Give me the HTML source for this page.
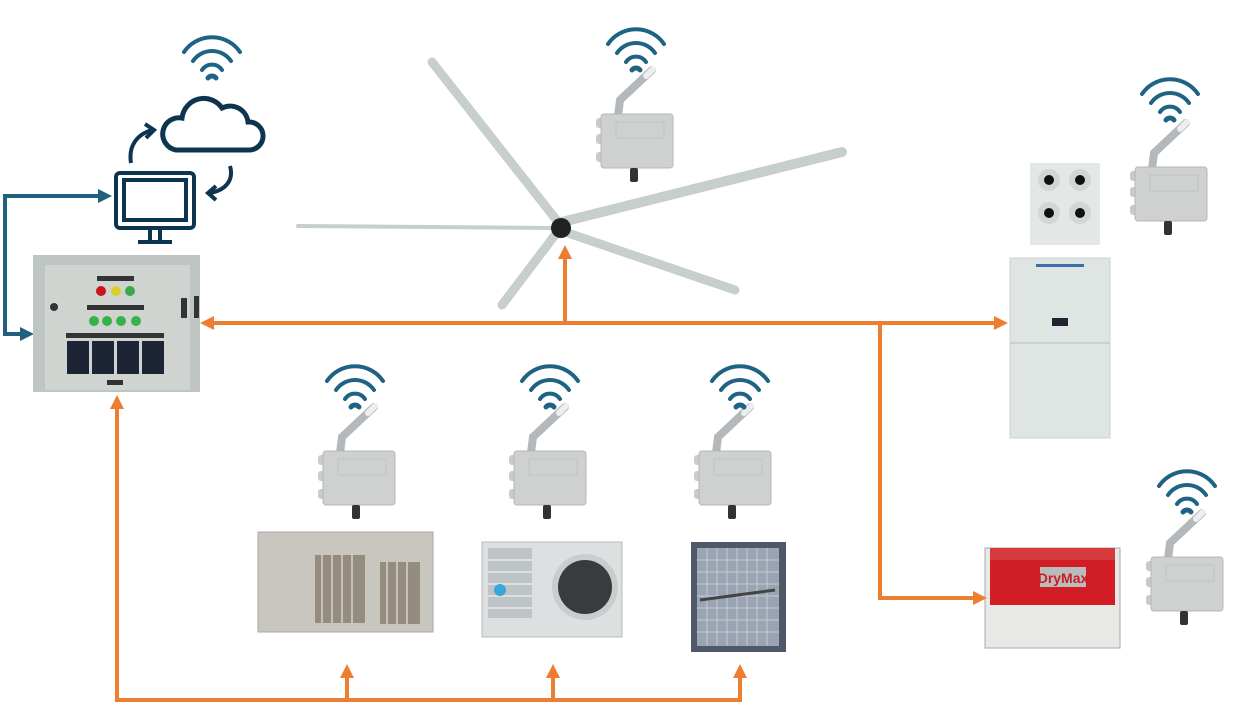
<!DOCTYPE html>
<html><head><meta charset="utf-8"><style>html,body{margin:0;padding:0;background:#fff}svg{display:block}</style></head>
<body>
<svg width="1234" height="705" viewBox="0 0 1234 705" xmlns="http://www.w3.org/2000/svg">
<defs>
<g id="wifi" fill="none" stroke="#1f6384" stroke-width="4" stroke-linecap="round">
<path d="M-28,-12 A34,34 0 0 1 28,-12"/>
<path d="M-19,-3 A23,23 0 0 1 19,-3"/>
<path d="M-10,6 A12,12 0 0 1 10,6"/>
<path d="M-4,14 A5,5 0 0 1 4,14" stroke-width="5"/>
</g>
<g id="mod">
<path d="M22,4 L24,-12 L56,-42" stroke="#b4b8bb" stroke-width="8" stroke-linecap="round" fill="none"/>
<path d="M50,-36 L57,-43" stroke="#eceeef" stroke-width="6" stroke-linecap="round"/>
<rect x="0" y="6" width="8" height="10" rx="3" fill="#c9cbcb"/>
<rect x="0" y="22" width="8" height="10" rx="3" fill="#c9cbcb"/>
<rect x="0" y="40" width="8" height="10" rx="3" fill="#c9cbcb"/>
<rect x="5" y="2" width="72" height="54" rx="3" fill="#cfd1d1" stroke="#b5b8b8"/>
<rect x="20" y="10" width="48" height="16" fill="none" stroke="#bfc2c2"/>
<rect x="34" y="56" width="8" height="14" rx="2" fill="#333"/>
</g>
</defs>

<path d="M100,196 L5,196 L5,334 L24,334" fill="none" stroke="#1f5f80" stroke-width="4"/>
<path d="M98,189 L112,196 L98,203 z" fill="#1f5f80"/>
<path d="M20,327 L34,334 L20,341 z" fill="#1f5f80"/>

<g fill="none" stroke="#0d3550" stroke-width="4">
<path d="M176,150 L250,150 A14,14 0 0 0 248,122 A18,18 0 0 0 222,108 A22,22 0 0 0 182,118 A16,16 0 0 0 176,150 z" stroke-width="5"/>
<path d="M131,163 C128,145 138,134 152,130"/>
<path d="M145,124 L154,130 L146,138"/>
<path d="M230,166 C234,180 226,190 210,193"/>
<path d="M216,186 L208,193 L216,200"/>
<rect x="116" y="173" width="78" height="55" rx="4"/>
<rect x="124" y="180" width="62" height="40"/>
<path d="M150,230 L150,240 M160,230 L160,240 M138,242 L172,242"/>
</g>
<use href="#wifi" x="212" y="64"/>

<rect x="33" y="255" width="167" height="137" fill="#bfc5c2"/>
<rect x="45" y="265" width="145" height="125" fill="#cfd4d1"/>
<rect x="97" y="276" width="37" height="5" fill="#333"/>
<circle cx="101" cy="291" r="5" fill="#c8141a"/><circle cx="116" cy="291" r="5" fill="#d8cf2a"/><circle cx="130" cy="291" r="5" fill="#3aa94a"/>
<rect x="87" y="305" width="57" height="5" fill="#333"/>
<circle cx="94" cy="321" r="5" fill="#37b24a"/><circle cx="107" cy="321" r="5" fill="#37b24a"/><circle cx="121" cy="321" r="5" fill="#37b24a"/><circle cx="136" cy="321" r="5" fill="#37b24a"/>
<rect x="66" y="333" width="98" height="5" fill="#333"/>
<rect x="67" y="341" width="22" height="33" fill="#1d2535"/><rect x="92" y="341" width="22" height="33" fill="#1d2535"/><rect x="117" y="341" width="22" height="33" fill="#1d2535"/><rect x="142" y="341" width="22" height="33" fill="#1d2535"/>
<rect x="107" y="380" width="16" height="5" fill="#333"/>
<circle cx="54" cy="307" r="4" fill="#333"/>
<rect x="181" y="298" width="6" height="20" fill="#333"/><rect x="194" y="296" width="5" height="22" fill="#333"/>

<g stroke="#c6cfca" stroke-linecap="round" fill="none">
<path d="M558,222 L432,62" stroke-width="9"/>
<path d="M562,222 L842,152" stroke-width="10"/>
<path d="M565,232 L735,290" stroke-width="9"/>
<path d="M555,235 L502,305" stroke-width="9"/>
<path d="M552,228 L298,226" stroke-width="4"/>
</g>
<circle cx="561" cy="228" r="10" fill="#222"/>
<use href="#mod" x="596" y="112"/>
<use href="#wifi" x="636" y="56"/>

<rect x="1030" y="163" width="70" height="82" fill="#e3e8e6"/>
<g fill="#d2d7d6"><circle cx="1049" cy="180" r="11"/><circle cx="1080" cy="180" r="11"/><circle cx="1049" cy="213" r="11"/><circle cx="1080" cy="213" r="11"/></g>
<g fill="#111"><circle cx="1049" cy="180" r="5"/><circle cx="1080" cy="180" r="5"/><circle cx="1049" cy="213" r="5"/><circle cx="1080" cy="213" r="5"/></g>
<rect x="1010" y="258" width="100" height="180" fill="#dfe5e2" stroke="#cdd3d0"/>
<line x1="1010" y1="343" x2="1110" y2="343" stroke="#b8bfbc"/>
<rect x="1036" y="264" width="48" height="3" fill="#3b6fb0"/>
<rect x="1052" y="318" width="16" height="8" fill="#223"/>
<use href="#mod" x="1130" y="165"/>
<use href="#wifi" x="1170" y="106"/>

<rect x="985" y="548" width="135" height="100" fill="#e8e8e6" stroke="#aaa"/>
<rect x="990" y="560" width="125" height="45" fill="#d01e24"/>
<rect x="1040" y="567" width="46" height="20" fill="#bbb"/>
<text x="1063" y="583" font-family="Liberation Sans, sans-serif" font-size="14" font-weight="bold" fill="#c81e24" text-anchor="middle">DryMax</text>
<rect x="990" y="548" width="125" height="12" fill="#d63a3a"/>
<use href="#mod" x="1146" y="555"/>
<use href="#wifi" x="1187" y="498"/>

<rect x="258" y="532" width="175" height="100" fill="#c9c6c0" stroke="#aaa"/>
<rect x="315" y="555" width="50" height="68" fill="#958c80"/><rect x="380" y="562" width="40" height="62" fill="#958c80"/>
<g stroke="#d8d2c8" stroke-width="1.5"><path d="M322,555V623M332,555V623M342,555V623M352,555V623M387,562V624M397,562V624M407,562V624"/></g>
<rect x="482" y="542" width="140" height="95" fill="#dde0e0" stroke="#bbb"/>
<rect x="488" y="548" width="44" height="70" fill="#bfc5c7"/>
<g stroke="#e6e9ea" stroke-width="1.5"><path d="M488,560H532M488,572H532M488,584H532M488,596H532M488,608H532"/></g>
<circle cx="500" cy="590" r="6" fill="#3aa6d9"/>
<circle cx="585" cy="587" r="33" fill="#c9cdcd"/><circle cx="585" cy="587" r="27" fill="#3a3b3d"/>
<rect x="691" y="542" width="95" height="110" fill="#4e5866"/>
<rect x="697" y="548" width="82" height="98" fill="#9aa4b2"/>
<g stroke="#c4cad2" stroke-width="1"><path d="M707,548V646M717,548V646M727,548V646M737,548V646M747,548V646M757,548V646M767,548V646M697,560H779M697,572H779M697,584H779M697,596H779M697,608H779M697,620H779M697,632H779"/></g>
<path d="M700,600 L775,590" stroke="#444" stroke-width="3"/>
<use href="#mod" x="318" y="449"/>
<use href="#wifi" x="355" y="393"/>
<use href="#mod" x="509" y="449"/>
<use href="#wifi" x="550" y="393"/>
<use href="#mod" x="694" y="449"/>
<use href="#wifi" x="740" y="393"/>

<g stroke="#ed7d31" stroke-width="4" fill="none">
<path d="M212,323 L996,323"/>
<path d="M565,323 L565,257"/>
<path d="M880,323 L880,598 L975,598"/>
<path d="M117,407 L117,700 L740,700 L740,676"/>
<path d="M347,700 L347,676"/>
<path d="M553,700 L553,676"/>
</g>
<g fill="#ed7d31">
<path d="M200,323 L214,316 L214,330 z"/>
<path d="M1008,323 L994,316 L994,330 z"/>
<path d="M565,245 L558,259 L572,259 z"/>
<path d="M987,598 L973,591 L973,605 z"/>
<path d="M117,395 L110,409 L124,409 z"/>
<path d="M347,664 L340,678 L354,678 z"/>
<path d="M553,664 L546,678 L560,678 z"/>
<path d="M740,664 L733,678 L747,678 z"/>
</g>
</svg>
</body></html>
